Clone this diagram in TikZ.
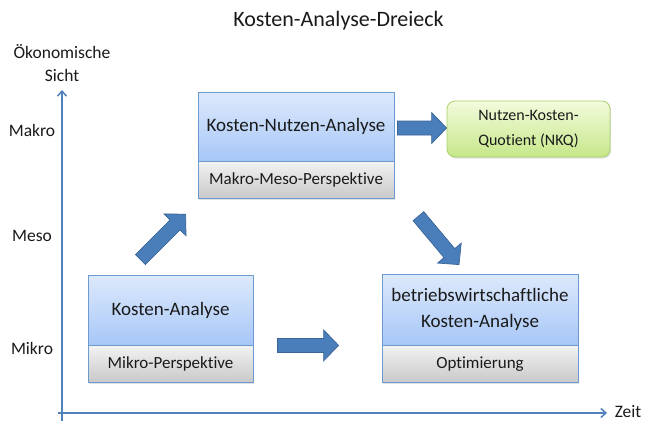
\documentclass[tikz,border=0pt]{standalone}
\usepackage{fontspec}
\setmainfont{Carlito}[Ligatures=CommonOff]
\usetikzlibrary{arrows.meta,shadows,calc}
\definecolor{axisblue}{HTML}{4F81BD}
\definecolor{arrowblue}{HTML}{4A7EBB}
\definecolor{arrowborder}{HTML}{3A6597}
\definecolor{boxborder}{HTML}{6C9BD2}
\definecolor{bluetop}{HTML}{DDE9FC}
\definecolor{bluebot}{HTML}{A7C7F7}
\definecolor{graytop}{HTML}{F2F2F2}
\definecolor{graybot}{HTML}{C8C8C8}
\definecolor{greentop}{HTML}{F3FBDC}
\definecolor{greenbot}{HTML}{C6E78A}
\definecolor{greenborder}{HTML}{A9D26A}
\definecolor{txt}{HTML}{1A1A1A}
\tikzset{
  boxshadow/.style={drop shadow={shadow xshift=1.2pt,shadow yshift=-1.5pt,opacity=0.25}},
  bluebox/.style={draw=boxborder,line width=0.8pt,top color=bluetop,bottom color=bluebot,
    boxshadow,inner sep=2pt,align=center,text=txt,font=\fontsize{19}{26}\selectfont},
  graybox/.style={draw=boxborder,line width=0.8pt,top color=graytop,bottom color=graybot,
    boxshadow,inner sep=2pt,text=txt,font=\fontsize{17}{20}\selectfont},
  greenbox/.style={draw=greenborder,line width=0.8pt,top color=greentop,bottom color=greenbot,
    rounded corners=8pt,boxshadow,align=center,text=txt,font=\fontsize{16}{25}\selectfont},
  blockarr/.style={fill=arrowblue,draw=arrowborder,line width=0.7pt,line join=miter},
  axis/.style={draw=axisblue,line width=1.8pt,-{Straight Barb[length=5pt,width=9pt,line width=1.5pt]}},
  axlabel/.style={text=txt,font=\fontsize{17.5}{23}\selectfont,align=center}
}
\newcommand\blockarrow[2]{%
  \coordinate (#1#2h) at ($(#2)!15pt!(#1)$);
  \draw[blockarr] ($(#1)!7pt!90:(#2)$) -- ($(#1#2h)!7pt!90:(#2)$) -- ($(#1#2h)!15.5pt!90:(#2)$)
    -- (#2) -- ($(#1#2h)!15.5pt!-90:(#2)$) -- ($(#1#2h)!7pt!-90:(#2)$) -- ($(#1)!7pt!-90:(#2)$) -- cycle;}
\begin{document}
\begin{tikzpicture}[x=1pt,y=-1pt]
\useasboundingbox[fill=white] (0,0) rectangle (647,423);
% title
\node[text=txt,font=\fontsize{22}{26}\selectfont] (title) at (338.5,21) {Kosten-Analyse-Dreieck};
% axes
\coordinate (ybot) at (62,421);
\coordinate (ytop) at (62,90);
\coordinate (xleft) at (58,413);
\coordinate (xright) at (607,413);
\draw[axis] (ybot) -- (ytop);
\draw[axis] (xleft) -- (xright);
\node[axlabel] (ylab) at (62,63) {Ökonomische\\Sicht};
\node[axlabel] (xlab) at (628,412) {Zeit};
\node[axlabel] (makro) at (32,130) {Makro};
\node[axlabel] (meso) at (32,236) {Meso};
\node[axlabel] (mikro) at (32,348) {Mikro};
% boxes
\node[bluebox,minimum width=196pt,minimum height=69pt] (kna) at (296,126.5) {Kosten-Nutzen-Analyse};
\node[graybox,minimum width=196pt,minimum height=37pt,anchor=north] (knag) at (kna.south) {Makro-Meso-Perspektive};
\node[greenbox,minimum width=163pt,minimum height=56pt] (nkq) at (528.5,129) {Nutzen-Kosten-\\Quotient (NKQ)};
\node[bluebox,minimum width=165pt,minimum height=70pt] (ka) at (170.5,310) {Kosten-Analyse};
\node[graybox,minimum width=165pt,minimum height=37pt,anchor=north] (kag) at (ka.south) {Mikro-Perspektive};
\node[bluebox,minimum width=196pt,minimum height=71pt] (bka) at (480,309.5) {betriebswirtschaftliche\\Kosten-Analyse};
\node[graybox,minimum width=196pt,minimum height=37pt,anchor=north] (bkag) at (bka.south) {Optimierung};
% connectors
\coordinate (a1s) at ($(ka.north)+(-30,-15)$);
\coordinate (a1e) at ($(knag.south west)+(-12,15)$);
\blockarrow{a1s}{a1e}
\coordinate (a2s) at ($(kna.east)+(3,1.5)$);
\coordinate (a2e) at (a2s -| nkq.west);
\blockarrow{a2s}{a2e}
\coordinate (a3s) at ($(knag.south east)+(24,17)$);
\coordinate (a3e) at ($(bka.north)+(-21,-9)$);
\blockarrow{a3s}{a3e}
\coordinate (a4s) at ($(ka.south east)+(24,0)$);
\coordinate (a4e) at ($(bka.south west)+(-43,0)$);
\blockarrow{a4s}{a4e}
\end{tikzpicture}
\end{document}
